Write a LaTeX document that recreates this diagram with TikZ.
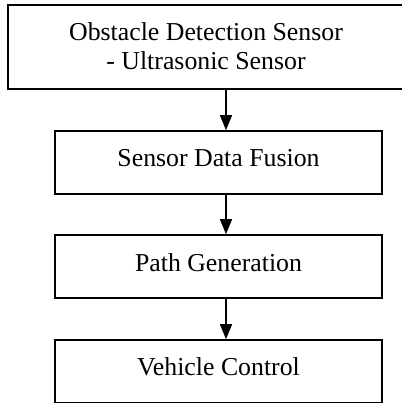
\documentclass[tikz,border=0pt]{standalone}
\usepackage{fontspec}
\setmainfont{Liberation Serif}
\usetikzlibrary{arrows.meta}
\begin{document}
\begin{tikzpicture}[x=1pt,y=-1pt,
  box/.style={draw=black,line width=1.6pt,minimum height=63pt,minimum width=327pt,inner sep=0pt,fill=white},
  lbl/.style={anchor=base,inner sep=0pt,font=\fontsize{25.8}{29}\selectfont},
  flow/.style={line width=1.4pt,-{Triangle[length=15pt,width=12pt]}}]
\useasboundingbox (0,0) rectangle (401,403);
\node[box,minimum width=396pt,minimum height=84pt] (b1) at (206,47) {};
\node[box] (b2) at (218.5,162.5) {};
\node[box] (b3) at (218.5,266.5) {};
\node[box] (b4) at (218.5,371.5) {};
\node[lbl] (t1a) at (206,41) {Obstacle Detection Sensor};
\node[lbl] (t1b) at (206,70) {- Ultrasonic Sensor};
\node[lbl] (t2) at (218.5,167) {Sensor Data Fusion};
\node[lbl] (t3) at (218.5,271) {Path Generation};
\node[lbl] (t4) at (218.5,375) {Vehicle Control};
\draw[flow] (226,89) coordinate (a1) -- (a1 |- b2.north);
\draw[flow] (226,194) coordinate (a2) -- (a2 |- b3.north);
\draw[flow] (226,298) coordinate (a3) -- (a3 |- b4.north);
\end{tikzpicture}
\end{document}
